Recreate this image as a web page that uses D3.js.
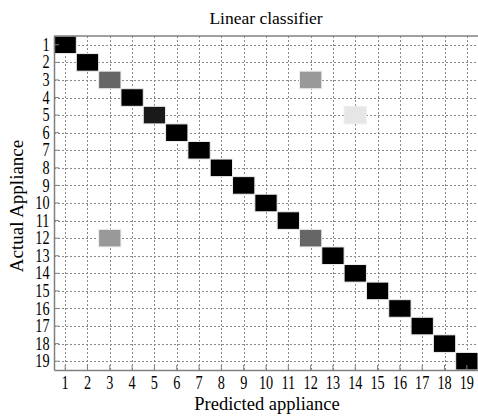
<!DOCTYPE html>
<html>
<head>
<meta charset="utf-8">
<script src="https://cdn.jsdelivr.net/npm/d3@7"></script>
<style>
  body { margin: 0; background: #fff; }
  text { font-family: "Liberation Serif", "Times New Roman", serif; fill: #000; }
</style>
</head>
<body>
<svg id="chart" width="478" height="417"></svg>
<script>
// appliance classes 1..19
var classes = d3.range(1, 20);
// entries of the confusion matrix (row = actual, col = predicted), empty cells left out
var cellActual    = [1, 2, 3,   3,   4, 5,   5,   6, 7, 8, 9, 10, 11, 12,  12,  13, 14, 15, 16, 17, 18, 19];
var cellPredicted = [1, 2, 3,   12,  4, 5,   14,  6, 7, 8, 9, 10, 11, 3,   12,  13, 14, 15, 16, 17, 18, 19];
var cellValue     = [1, 1, 0.6, 0.4, 1, 0.9, 0.1, 1, 1, 1, 1, 1,  1,  0.4, 0.6, 1,  1,  1,  1,  1,  1,  1];

var svg = d3.select("#chart");
var plotL = 54, plotR = 478, plotT = 36, plotB = 370;
var squeeze = 0.75; // tick digits are narrow in the original

var x = d3.scaleBand().domain(classes).range([plotL, plotR]);
var y = d3.scaleBand().domain(classes).range([plotT, plotB]);
var shade = d3.scaleLinear().domain([0, 1]).range(["#ffffff", "#000000"]);

// dashed grid at cell centres
svg.append("g").selectAll("line").data(classes).enter().append("line")
    .attr("x1", function(d){ return Math.round(x(d) + x.bandwidth()/2) + 0.5; })
    .attr("x2", function(d){ return Math.round(x(d) + x.bandwidth()/2) + 0.5; })
    .attr("y1", plotT).attr("y2", plotB)
    .attr("stroke", "#888").attr("stroke-width", 1).attr("stroke-dasharray", "2,2");
svg.append("g").selectAll("line").data(classes).enter().append("line")
    .attr("y1", function(d){ return Math.round(y(d) + y.bandwidth()/2) + 0.5; })
    .attr("y2", function(d){ return Math.round(y(d) + y.bandwidth()/2) + 0.5; })
    .attr("x1", plotL).attr("x2", plotR)
    .attr("stroke", "#888").attr("stroke-width", 1).attr("stroke-dasharray", "2,2");

// cells
var cells = cellValue.map(function(v, i){
    return { a: cellActual[i], p: cellPredicted[i], v: v };
});
svg.append("g").selectAll("rect").data(cells).enter().append("rect")
    .attr("x", function(d){ return x(d.p); })
    .attr("y", function(d){ return y(d.a); })
    .attr("width", x.bandwidth())
    .attr("height", y.bandwidth())
    .attr("fill", function(d){ return shade(d.v); })
    .attr("stroke", "#eeeeee").attr("stroke-width", 1);

// frame top
svg.append("line").attr("x1", plotL).attr("x2", plotR).attr("y1", plotT).attr("y2", plotT)
    .attr("stroke", "#808080").attr("stroke-width", 1.5);

// axes
var xAxis = svg.append("g").attr("transform", "translate(0," + plotB + ")")
    .call(d3.axisBottom(x).tickSizeInner(-5).tickSizeOuter(0).tickPadding(6));
var yAxis = svg.append("g").attr("transform", "translate(" + plotL + ",0)")
    .call(d3.axisLeft(y).tickSizeInner(-5).tickSizeOuter(0).tickPadding(6));
[xAxis, yAxis].forEach(function(g){
    g.select(".domain").attr("stroke", "#808080").attr("stroke-width", 1.5);
    g.selectAll(".tick line").attr("stroke", "#808080");
    g.attr("font-family", "Liberation Serif").attr("font-size", 19);
    g.selectAll("text").attr("fill", "#000")
        .attr("transform", "scale(" + squeeze + ",1)");
});

// titles
svg.append("text").attr("x", 266).attr("y", 24).attr("text-anchor", "middle")
    .attr("font-size", 17.5).text("Linear classifier");
svg.append("text").attr("x", 267).attr("y", 410).attr("text-anchor", "middle")
    .attr("font-size", 18.5).text("Predicted appliance");
svg.append("text").attr("transform", "translate(23," + ((plotT + plotB)/2 + 3) + ") rotate(-90)")
    .attr("text-anchor", "middle").attr("font-size", 19).text("Actual Appliance");
</script>
</body>
</html>
